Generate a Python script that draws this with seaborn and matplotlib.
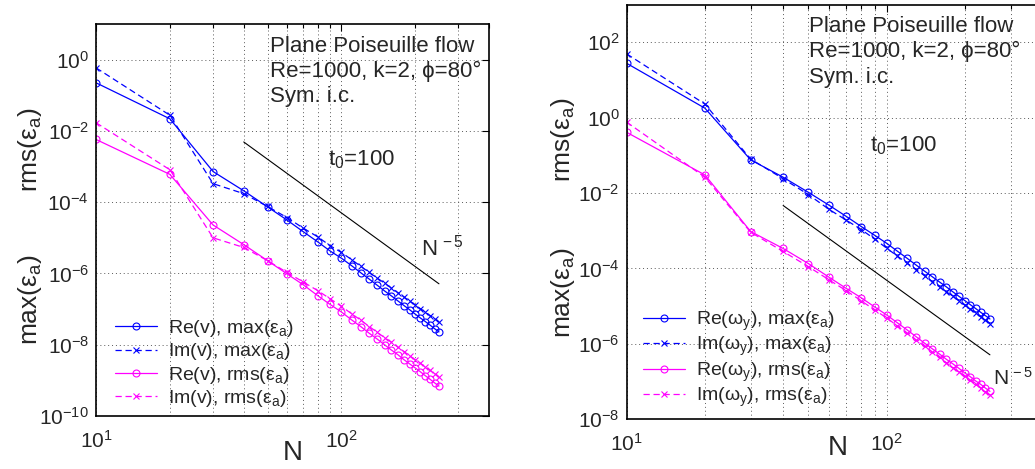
import numpy as np
import pandas as pd
import matplotlib
matplotlib.use("Agg")
import matplotlib.pyplot as plt
import seaborn as sns
from matplotlib.ticker import LogLocator, NullFormatter, NullLocator, LogFormatterMathtext

# grid resolution N (same for both panels)
N = [10, 20, 30, 40, 50, 60, 70, 80, 90, 100, 110, 120, 130,
     140, 150, 160, 170, 180, 190, 200, 210, 220, 230, 240, 250]

# left panel: wall-normal velocity v, errors as log10 values
v_re_max = [-0.65, -1.66, -3.14, -3.68, -4.13, -4.50, -4.83, -5.11, -5.37, -5.57, -5.78, -5.98, -6.16,
            -6.33, -6.49, -6.63, -6.77, -6.90, -7.02, -7.14, -7.25, -7.35, -7.45, -7.55, -7.64]
v_im_max = [-0.23, -1.56, -3.48, -3.76, -4.12, -4.43, -4.73, -4.97, -5.22, -5.41, -5.61, -5.80, -5.97,
            -6.13, -6.27, -6.41, -6.54, -6.66, -6.78, -6.88, -6.99, -7.09, -7.18, -7.27, -7.36]
v_re_rms = [-2.24, -3.22, -4.64, -5.19, -5.64, -6.01, -6.32, -6.62, -6.87, -7.08, -7.30, -7.49, -7.68,
            -7.84, -8.00, -8.15, -8.28, -8.42, -8.54, -8.65, -8.76, -8.87, -8.97, -9.07, -9.16]
v_im_rms = [-1.77, -3.09, -5.00, -5.27, -5.64, -5.97, -6.24, -6.48, -6.71, -6.92, -7.13, -7.31, -7.49,
            -7.65, -7.80, -7.93, -8.07, -8.19, -8.31, -8.42, -8.52, -8.62, -8.72, -8.81, -8.90]

# right panel: normal vorticity omega_y
w_re_max = [1.44, 0.25, -1.12, -1.58, -1.98, -2.32, -2.62, -2.89, -3.12, -3.33, -3.54, -3.73, -3.91,
            -4.07, -4.22, -4.36, -4.49, -4.62, -4.74, -4.85, -4.96, -5.06, -5.16, -5.25, -5.34]
w_im_max = [1.69, 0.36, -1.10, -1.62, -2.04, -2.43, -2.72, -2.97, -3.22, -3.46, -3.67, -3.86, -4.03,
            -4.19, -4.35, -4.49, -4.62, -4.74, -4.86, -4.97, -5.08, -5.18, -5.28, -5.37, -5.46]
w_re_rms = [-0.39, -1.52, -3.02, -3.47, -3.87, -4.23, -4.53, -4.78, -5.02, -5.23, -5.44, -5.63, -5.81,
            -5.98, -6.13, -6.27, -6.41, -6.53, -6.65, -6.77, -6.87, -6.98, -7.07, -7.17, -7.26]
w_im_rms = [-0.12, -1.58, -3.04, -3.55, -3.95, -4.30, -4.59, -4.86, -5.10, -5.31, -5.52, -5.72, -5.90,
            -6.06, -6.22, -6.36, -6.50, -6.63, -6.75, -6.86, -6.97, -7.07, -7.17, -7.27, -7.36]

# N^-5 guide lines (end points)
ref_N = [40, 250]
ref_left = [-2.31, -6.29]
ref_right = [-2.33, -6.29]

eps = r"ε$_\mathregular{a}$"
labels_left = ["Re(v), max(" + eps + ")", "Im(v), max(" + eps + ")",
               "Re(v), rms(" + eps + ")", "Im(v), rms(" + eps + ")"]
labels_right = [r"Re(ω$_\mathregular{y}$), max(" + eps + ")", r"Im(ω$_\mathregular{y}$), max(" + eps + ")",
                r"Re(ω$_\mathregular{y}$), rms(" + eps + ")", r"Im(ω$_\mathregular{y}$), rms(" + eps + ")"]

sns.set_style("white")
plt.rcParams['font.family'] = ['Liberation Sans', 'DejaVu Sans']
plt.rcParams['mathtext.fontset'] = 'custom'
plt.rcParams['mathtext.rm'] = 'Liberation Sans'
plt.rcParams['mathtext.it'] = 'Liberation Sans:italic'
plt.rcParams['mathtext.default'] = 'regular'

BLUE = '#0000ff'
MAG = '#ff00ff'
DASH = (0, (5, 3))


def draw_panel(ax, series, labels, styles, ylim, yticks, ref_y, leg_anchor):
    ax.set_xscale('log')
    ax.set_yscale('log')
    df = pd.DataFrame({'N': N})
    for s, lab, (col, ls, mk) in zip(series, labels, styles):
        df['err'] = 10.0 ** np.array(s)
        sns.lineplot(data=df, x='N', y='err', ax=ax, color=col, linestyle=ls, marker=mk,
                     mfc='none', mec=col, mew=0.8, markersize=5, linewidth=0.9, label=lab)
    ax.plot(ref_N, 10.0 ** np.array(ref_y), color='black', lw=0.8)

    ax.set_xlim(10, 400)
    ax.set_ylim(*ylim)
    ax.set_xticks([10, 100])
    ax.xaxis.set_minor_locator(LogLocator(base=10, subs=np.arange(2, 10)))
    ax.xaxis.set_minor_formatter(NullFormatter())
    ax.set_yticks(yticks)
    ax.yaxis.set_major_formatter(LogFormatterMathtext())
    ax.yaxis.set_minor_locator(NullLocator())
    ax.set_xlabel('')
    ax.set_ylabel('')

    grid_kw = dict(ls=(0, (1, 3)), color='0.35', lw=0.7)
    ax.grid(True, which='both', axis='x', **grid_kw)
    ax.grid(True, which='major', axis='y', **grid_kw)
    ax.tick_params(which='both', direction='in', top=True, right=True, labelsize=15,
                   width=0.8, color='black')
    ax.tick_params(which='major', length=5)
    ax.tick_params(axis='y', which='major', pad=5)
    ax.tick_params(axis='x', which='major', pad=10)
    ax.tick_params(which='minor', length=3)
    for sp in ax.spines.values():
        sp.set_color('black')
        sp.set_linewidth(1.2)

    ax.legend(loc='upper left', bbox_to_anchor=leg_anchor, frameon=False, fontsize=14,
              handlelength=2.15, handletextpad=0.6, labelspacing=0.12, borderpad=0,
              borderaxespad=0, numpoints=1)


fig = plt.figure(figsize=(10.35, 4.69), dpi=100)
ax1 = fig.add_axes([0.0928, 0.113, 0.3797, 0.8358])
ax2 = fig.add_axes([0.6055, 0.106, 0.4022, 0.8844])

styles_left = [(BLUE, '-', 'o'), (BLUE, DASH, 'x'), (MAG, '-', 'o'), (MAG, DASH, 'x')]
styles_right = [(BLUE, '-', 'o'), (BLUE, DASH, 'x'), (MAG, '-', 'o'), (MAG, DASH, 'x')]

draw_panel(ax1, [v_re_max, v_im_max, v_re_rms, v_im_rms], labels_left, styles_left,
           (1e-10, 1e1), [1e-10, 1e-8, 1e-6, 1e-4, 1e-2, 1e0], ref_left, (0.048, 0.25))
draw_panel(ax2, [w_re_max, w_im_max, w_re_rms, w_im_rms], labels_right, styles_right,
           (1e-8, 1e3), [1e-8, 1e-6, 1e-4, 1e-2, 1e0, 1e2], ref_right, (0.039, 0.265))

# annotations
title_lines = ["Plane Poiseuille flow", "Re=1000, k=2, ϕ=80°", "Sym. i.c."]
for txt, yl, yr in zip(title_lines, [0.9286, 0.8648, 0.801], [0.934, 0.873, 0.810]):
    ax1.text(0.443, yl, txt, transform=ax1.transAxes, fontsize=16, va='baseline', ha='left')
    ax2.text(0.438, yr, txt, transform=ax2.transAxes, fontsize=16, va='baseline', ha='left')

ax1.text(88, 10 ** -2.98, r"t$_0$=100", fontsize=16, va='baseline', ha='left')
ax2.text(86, 10 ** -0.90, r"t$_0$=100", fontsize=16, va='baseline', ha='left')
ax1.text(211, 10 ** -5.50, r"N$^{\,-5}$", fontsize=16, va='baseline', ha='left')
ax2.text(258, 10 ** -7.09, r"N$^{\,-5}$", fontsize=15, va='baseline', ha='left')

# axis labels as figure text (two stacked y labels per panel)
W, H = 1035.0, 469.0
for xpx, ypx, txt in [(30, 150, "rms(" + eps + ")"), (30, 300, "max(" + eps + ")"),
                      (563, 140, "rms(" + eps + ")"), (563, 293, "max(" + eps + ")")]:
    fig.text(xpx / W, 1 - ypx / H, txt, rotation=90, ha='center', va='center', fontsize=19)
fig.text(293 / W, 1 - 453 / H, "N", ha='center', va='center', fontsize=20)
fig.text(838 / W, 1 - 448 / H, "N", ha='center', va='center', fontsize=20)

fig.savefig('out.png', dpi=100)
